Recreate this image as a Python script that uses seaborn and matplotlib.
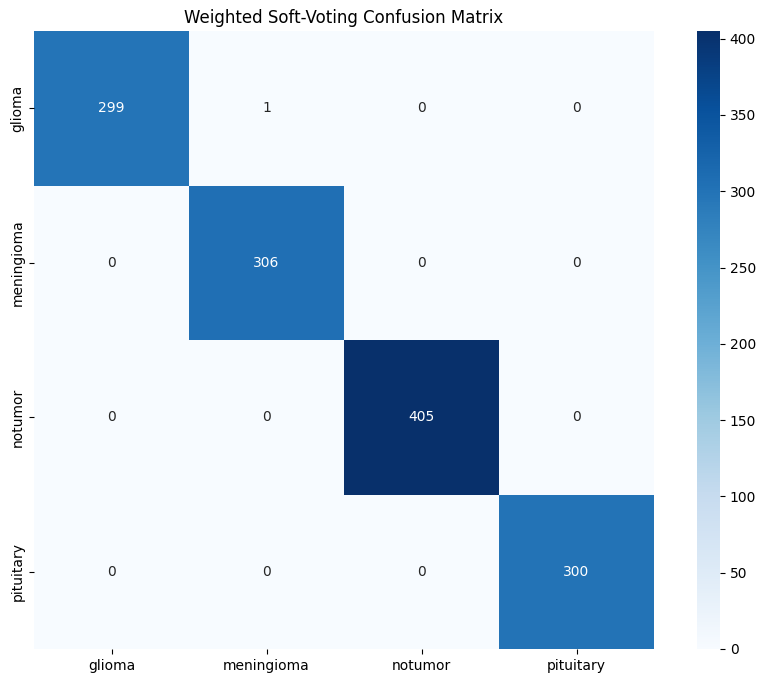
import numpy as np
import pandas as pd
import matplotlib
matplotlib.use("Agg")
import matplotlib.pyplot as plt
import seaborn as sns

# class names and confusion matrix counts
classes = ["glioma", "meningioma", "notumor", "pituitary"]
row_glioma = [299, 1, 0, 0]
row_meningioma = [0, 306, 0, 0]
row_notumor = [0, 0, 405, 0]
row_pituitary = [0, 0, 0, 300]

cm = pd.DataFrame([row_glioma, row_meningioma, row_notumor, row_pituitary],
                  index=classes, columns=classes)

fig = plt.figure(figsize=(7.69, 6.82), dpi=100)
ax = fig.add_axes([34 / 769, 33 / 682, 620 / 769, 618 / 682])
cax = fig.add_axes([697 / 769, 33 / 682, 23 / 769, 618 / 682])

sns.heatmap(cm, annot=True, fmt="d", cmap="Blues", ax=ax, cbar_ax=cax)
ax.set_title("Weighted Soft-Voting Confusion Matrix")

fig.savefig("out.png", dpi=100)
